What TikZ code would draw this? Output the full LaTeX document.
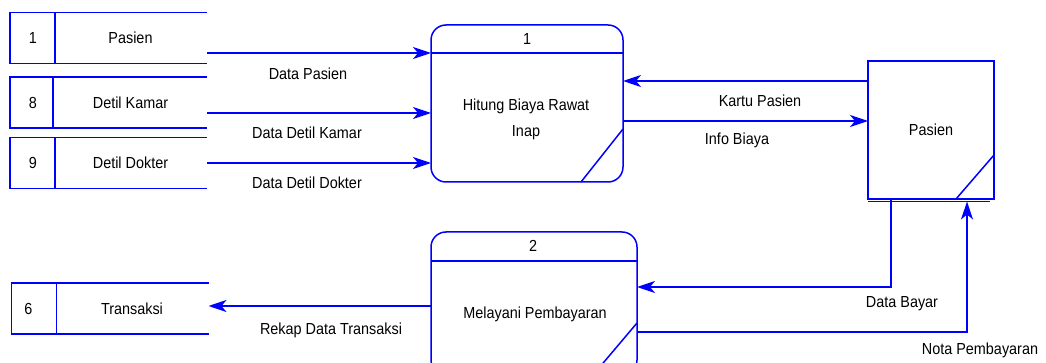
\documentclass[tikz,border=0pt]{standalone}
\usepackage{fontspec}
\newfontfamily\dfdfont[FakeStretch=0.9]{Liberation Sans}
\usetikzlibrary{positioning, arrows.meta}

\tikzset{
  blueline/.style={draw=blue, line width=1.5pt},
  flow/.style={blueline, -{Stealth[length=18pt, width=12pt, inset=5pt]}},
  lbl/.style={font=\dfdfont\fontsize{16}{26}\selectfont, text=black, inner sep=0pt, align=center},
  store/.style={minimum width=197pt, minimum height=51pt, inner sep=0pt, outer sep=0pt},
  proc/.style={blueline, rounded corners=15pt, inner sep=0pt, outer sep=0pt},
  entity/.style={blueline, inner sep=0pt, outer sep=0pt, minimum width=126pt, minimum height=138pt},
}

\begin{document}
\begin{tikzpicture}[x=1pt, y=-1pt]
    \useasboundingbox (0,0) rectangle (1046,363);

    % data stores
    \node[store] (s1) at (108.5,38) {};
    \node[store] (s8) at (108.5,102.5) {};
    \node[store] (s9) at (108.5,163) {};
    \node[store] (s6) at (110,308.5) {};
    \draw[blueline] (s1.north east) -- (s1.north west) -- (s1.south west) -- (s1.south east);
    \draw[blueline] (s8.north east) -- (s8.north west) -- (s8.south west) -- (s8.south east);
    \draw[blueline] (s9.north east) -- (s9.north west) -- (s9.south west) -- (s9.south east);
    \draw[blueline] (s6.north east) -- (s6.north west) -- (s6.south west) -- (s6.south east);
    \draw[blueline] ([xshift=45pt]s1.north west) -- ([xshift=45pt]s1.south west);
    \draw[blueline] ([xshift=43pt]s8.north west) -- ([xshift=43pt]s8.south west);
    \draw[blueline] ([xshift=45pt]s9.north west) -- ([xshift=45pt]s9.south west);
    \draw[blueline] ([xshift=45pt]s6.north west) -- ([xshift=45pt]s6.south west);
    \node[lbl] (s1id) at ([xshift=23pt]s1.west) {1};
    \node[lbl] (s8id) at ([xshift=23pt]s8.west) {8};
    \node[lbl] (s9id) at ([xshift=23pt]s9.west) {9};
    \node[lbl] (s6id) at ([xshift=17pt]s6.west) {6};
    \node[lbl] (s1name) at ([xshift=22pt]s1.center) {Pasien};
    \node[lbl] (s8name) at ([xshift=22pt]s8.center) {Detil Kamar};
    \node[lbl] (s9name) at ([xshift=22pt]s9.center) {Detil Dokter};
    \node[lbl] (s6name) at ([xshift=22pt]s6.center) {Transaksi};

    % processes
    \node[proc, minimum width=192pt, minimum height=157pt] (p1) at (527,103.5) {};
    \draw[blueline] ([yshift=-28pt]p1.north west) -- ([yshift=-28pt]p1.north east);
    \draw[blueline] ([xshift=-42pt]p1.south east) -- ([yshift=53pt]p1.south east);
    \node[lbl] (p1id) at (527,39) {1};
    \node[lbl] (p1name) at (526,119) {Hitung Biaya Rawat\\Inap};

    \node[proc, minimum width=206pt, minimum height=143pt] (p2) at (534,303.5) {};
    \draw[blueline] ([yshift=-29pt]p2.north west) -- ([yshift=-29pt]p2.north east);
    \draw[blueline] ([xshift=-44pt]p2.south east) -- ([yshift=52pt]p2.south east);
    \node[lbl] (p2id) at (533,246) {2};
    \node[lbl] (p2name) at (535,314) {Melayani Pembayaran};

    % external entity
    \node[entity, lbl] (ent) at (931,130) {Pasien};
    \draw[blueline] ([yshift=-2.5pt]ent.south west) -- ([xshift=-4pt, yshift=-2.5pt]ent.south east);
    \draw[blueline] ([xshift=-38pt]ent.south east) -- ([yshift=44pt]ent.south east);

    % flows
    \coordinate (dpasien) at ([yshift=-15pt]s1.east);
    \coordinate (dkamar) at ([yshift=-10.5pt]s8.east);
    \coordinate (ddokter) at (s9.east);
    \coordinate (kartu) at ([yshift=49pt]ent.west);
    \coordinate (info) at ([yshift=9pt]ent.west);
    \coordinate (rekap) at ([yshift=-2.5pt]p2.west);
    \draw[flow] (dpasien) -- (dpasien -| p1.west);
    \draw[flow] (dkamar) -- (dkamar -| p1.west);
    \draw[flow] (ddokter) -- (ddokter -| p1.west);
    \draw[flow] (kartu) -- (kartu -| p1.east);
    \draw[flow] (info -| p1.east) -- (info);
    \draw[flow] ([xshift=-40pt]ent.south) |- ([yshift=16.5pt]p2.east);
    \draw[flow] ([yshift=-28.5pt]p2.east) -| ([xshift=36pt, yshift=-2.5pt]ent.south);
    \draw[flow] (rekap) -- (rekap -| s6.east);

    % flow labels
    \node[lbl] (lpasien) at (308,74) {Data Pasien};
    \node[lbl] (lkamar) at (307,133) {Data Detil Kamar};
    \node[lbl] (ldokter) at (307,183) {Data Detil Dokter};
    \node[lbl] (lkartu) at (760,101) {Kartu Pasien};
    \node[lbl] (linfo) at (737,140) {Info Biaya};
    \node[lbl] (lrekap) at (331,330) {Rekap Data Transaksi};
    \node[lbl] (lbayar) at (902,304) {Data Bayar};
    \node[lbl] (lnota) at (980,350) {Nota Pembayaran};
\end{tikzpicture}
\end{document}
